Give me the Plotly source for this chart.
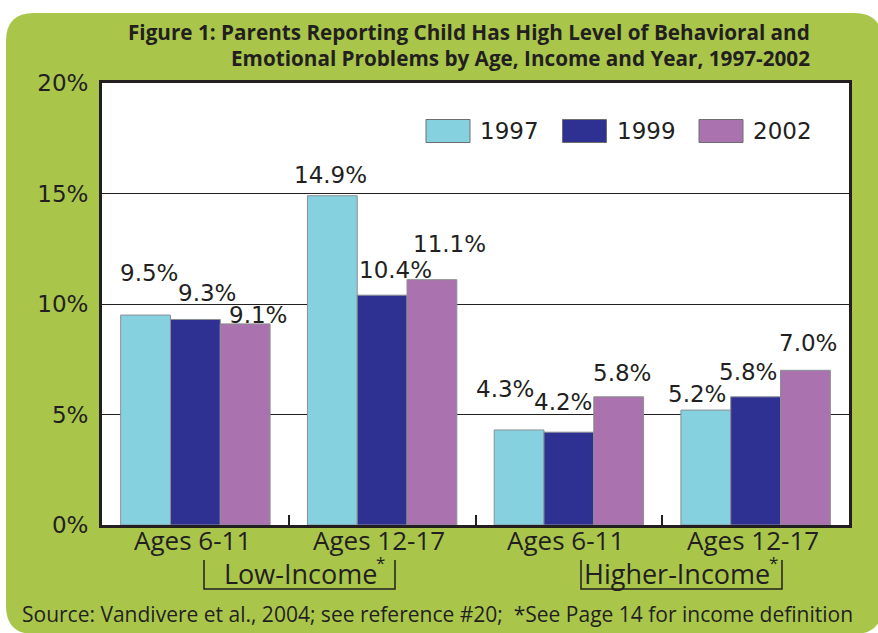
import plotly.graph_objects as go

# ---------------- data ----------------
age_labels = ["Ages 6-11", "Ages 12-17", "Ages 6-11", "Ages 12-17"]
income_groups = ["Low-Income", "Higher-Income"]
years = ["1997", "1999", "2002"]
values_1997 = [9.5, 14.9, 4.3, 5.2]
values_1999 = [9.3, 10.4, 4.2, 5.8]
values_2002 = [9.1, 11.1, 5.8, 7.0]
y_ticks = [0, 5, 10, 15, 20]
y_tick_labels = ["0%", "5%", "10%", "15%", "20%"]
title_lines = ["Figure 1: Parents Reporting Child Has High Level of Behavioral and",
               "Emotional Problems by Age, Income and Year, 1997-2002"]
source_text = "Source: Vandivere et al., 2004; see reference #20;  *See Page 14 for income definition"

# ---------------- style ----------------
colors = ["#86d1e0", "#2e3192", "#aa72ae"]
green = "#a9c64b"
ink = "#231f20"
W_FIG, H_FIG = 878, 633
M_L, M_R, M_T, M_B = 102, 29, 83, 108
PW = W_FIG - M_L - M_R
PH = H_FIG - M_T - M_B

def px(x):
    return (x - M_L) / PW

def py(y):
    return (H_FIG - M_B - y) / PH

def cx(x):
    # pixel x -> category-axis data coordinate
    return (x - M_L) / (PW / 4) - 0.5

series = [values_1997, values_1999, values_2002]
xs = list(range(len(age_labels)))
bar_w = 0.8 / 3

fig = go.Figure()
for name, vals, col in zip(years, series, colors):
    fig.add_trace(go.Bar(x=xs, y=vals, name=name, marker=dict(color=col, line=dict(color="#8a8f92", width=1)),
                         showlegend=False))

# data labels (pixel nudges per label to mimic the original placement)
label_dx = [[3, -2, -14, -9], [12, 13, -6, -8], [13, 18, 3, 3]]
label_dy = [[42, 21, 41, 16], [26, 25, 30, 25], [9, 36, 24, 27]]
annotations = []
for s, vals in enumerate(series):
    for i, v in enumerate(vals):
        annotations.append(dict(x=i + (s - 1) * bar_w, y=v, xref="x", yref="y", text=f"{v:.1f}%",
                                showarrow=False, xanchor="center", yanchor="middle",
                                xshift=label_dx[s][i], yshift=label_dy[s][i],
                                font=dict(family="DejaVu Sans", size=23, color=ink)))

# category labels
for i, lab in enumerate(age_labels):
    annotations.append(dict(x=i, y=py(540), xref="x", yref="paper", text=lab, showarrow=False,
                            xanchor="center", yanchor="middle", xshift=-3,
                            font=dict(family="Open Sans", size=26, color=ink)))

# title
for line, yc in zip(title_lines, [32, 58]):
    annotations.append(dict(x=px(812), y=py(yc), xref="paper", yref="paper", text="<b>" + line + "</b>",
                            showarrow=False, xanchor="right", yanchor="middle",
                            font=dict(family="Open Sans", size=20.7, color=ink)))
# source
annotations.append(dict(x=px(437), y=py(614), xref="paper", yref="paper", text=source_text,
                        showarrow=False, xanchor="center", yanchor="middle",
                        font=dict(family="Open Sans", size=21, color=ink)))

shapes = []
# green rounded background
x0, x1, y0, y1 = px(6), px(882), py(13), py(634)
rx, ry = 28 / PW, 28 / PH
path = (f"M {x0+rx},{y0} L {x1-rx},{y0} Q {x1},{y0} {x1},{y0-ry} L {x1},{y1+ry} Q {x1},{y1} {x1-rx},{y1} "
        f"L {x0+rx},{y1} Q {x0},{y1} {x0},{y1+ry} L {x0},{y0-ry} Q {x0},{y0} {x0+rx},{y0} Z")
shapes.append(dict(type="path", path=path, xref="paper", yref="paper", fillcolor=green,
                   line=dict(width=0), layer="below"))
shapes.append(dict(type="rect", xref="x domain", yref="y domain", x0=0, x1=1, y0=0, y1=1,
                   fillcolor="white", line=dict(width=0), layer="below"))

# custom legend
leg_x0, leg_step, sw_w, sw_h, leg_yc = 426, 136.5, 44, 23, 131
for k, (name, col) in enumerate(zip(years, colors)):
    sx = leg_x0 + k * leg_step
    shapes.append(dict(type="rect", xref="paper", yref="paper", x0=px(sx), x1=px(sx + sw_w),
                       y0=py(leg_yc - sw_h / 2), y1=py(leg_yc + sw_h / 2), fillcolor=col,
                       line=dict(color="#6d6e71", width=1)))
    annotations.append(dict(x=px(sx + sw_w + 8), y=py(leg_yc), xref="paper", yref="paper", text=name,
                            showarrow=False, xanchor="left", yanchor="middle",
                            font=dict(family="DejaVu Sans", size=23, color=ink)))

# income brackets
bracket_px = [(204, 395), (581, 782)]
text_end_px = [379, 772]
b_top, b_bot = py(560), py(589)
for (bx0, bx1), tend, grp in zip(bracket_px, text_end_px, income_groups):
    shapes.append(dict(type="path", xref="x", yref="paper",
                       path=f"M {cx(bx0)},{b_top} L {cx(bx0)},{b_bot} L {cx(bx1)},{b_bot} L {cx(bx1)},{b_top}",
                       line=dict(color=ink, width=1.5)))
    annotations.append(dict(x=cx(tend), y=py(573), xref="x", yref="paper",
                            text=grp, showarrow=False, xanchor="right", yanchor="middle",
                            font=dict(family="Open Sans", size=27, color=ink)))
    annotations.append(dict(x=cx(tend), y=py(562), xref="x", yref="paper", xshift=-5,
                            text="*", showarrow=False, xanchor="left", yanchor="middle",
                            font=dict(family="Open Sans", size=17, color=ink)))

fig.update_layout(
    width=W_FIG, height=H_FIG,
    margin=dict(l=M_L, r=M_R, t=M_T, b=M_B, pad=0),
    paper_bgcolor="white", plot_bgcolor="rgba(0,0,0,0)",
    barmode="group", bargap=0.2, bargroupgap=0,
    showlegend=False,
    annotations=annotations, shapes=shapes,
)
fig.update_xaxes(range=[-0.5, 3.5], tickmode="array", tickvals=xs, ticktext=["" for _ in xs],
                 ticks="", showticklabels=False,
                 showgrid=False, zeroline=False, showline=True, linecolor=ink, linewidth=3, mirror=True,
                 minor=dict(tickvals=[0.5, 1.5, 2.5], ticks="inside", ticklen=10, tickwidth=1.5,
                            tickcolor=ink, showgrid=False))
fig.update_yaxes(range=[0, 20], tickmode="array", tickvals=y_ticks, ticktext=y_tick_labels,
                 tickfont=dict(family="DejaVu Sans", size=23, color=ink), ticks="",
                 showgrid=True, gridcolor=ink, gridwidth=1, zeroline=False,
                 showline=True, linecolor=ink, linewidth=3, mirror=True, ticklabelstandoff=6)

fig.write_html("out.html", config={"displayModeBar": False},
               post_script="document.body.style.margin='0';document.body.style.overflow='hidden';")
